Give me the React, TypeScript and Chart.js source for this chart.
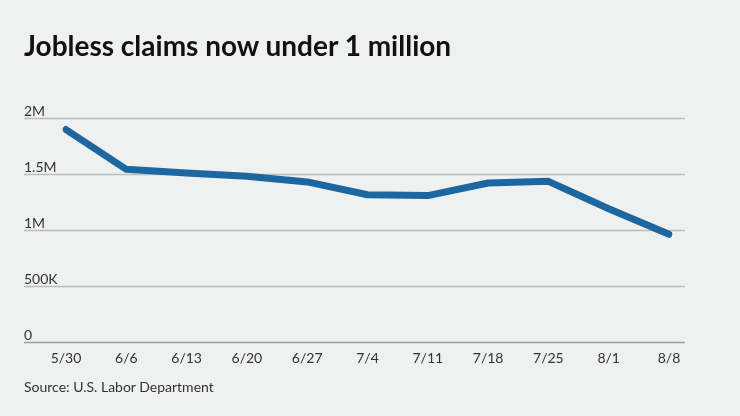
import React, { useEffect, useRef } from "react";
import { Chart, registerables } from "chart.js";

Chart.register(...registerables);

const weeks = ["5/30", "6/6", "6/13", "6/20", "6/27", "7/4", "7/11", "7/18", "7/25", "8/1", "8/8"];
const claims = [1897000, 1542000, 1510000, 1480000, 1430000, 1315000, 1308000, 1420000, 1435000, 1191000, 963000];
const yTicks = [0, 500000, 1000000, 1500000, 2000000];
const yTickLabels = ["0", "500K", "1M", "1.5M", "2M"];

const BG = "#eff1f1";

const gridPlugin = {
  id: "customGrid",
  beforeDatasetsDraw(chart: any) {
    const { ctx } = chart;
    const y = chart.scales.y;
    ctx.save();
    yTicks.forEach((v, i) => {
      const py = Math.round(y.getPixelForValue(v)) + 0.5;
      ctx.strokeStyle = v === 0 ? "#9a9a9a" : "#bdbdbd";
      ctx.lineWidth = 1.5;
      ctx.beginPath();
      ctx.moveTo(24, py);
      ctx.lineTo(685, py);
      ctx.stroke();
      ctx.fillStyle = "#333";
      ctx.font = "14px Lato, 'Open Sans', sans-serif";
      ctx.textAlign = "left";
      ctx.textBaseline = "alphabetic";
      ctx.fillText(yTickLabels[i], 24, py - 3);
    });
    ctx.restore();
  },
};

export default function App() {
  const ref = useRef<HTMLCanvasElement>(null);
  useEffect(() => {
    if (!ref.current) return;
    const chart = new Chart(ref.current, {
      type: "line",
      data: {
        labels: weeks,
        datasets: [
          {
            data: claims,
            borderColor: "#1d67a1",
            borderWidth: 7,
            borderCapStyle: "round",
            borderJoinStyle: "round",
            pointRadius: 0,
            tension: 0,
            fill: false,
          },
        ],
      },
      options: {
        animation: false,
        responsive: false,
        maintainAspectRatio: false,
        layout: { padding: { left: 66, right: 71, top: 118, bottom: 49 } },
        plugins: { legend: { display: false }, tooltip: { enabled: false }, title: { display: false } },
        scales: {
          x: {
            offset: false,
            grid: { display: false },
            border: { display: false },
            ticks: {
              color: "#333",
              font: { family: "Lato, 'Open Sans', sans-serif", size: 14 },
              padding: 0,
              maxRotation: 0,
              autoSkip: false,
            },
          },
          y: { display: false, min: 0, max: 2000000 },
        },
      },
      plugins: [gridPlugin],
    });
    return () => chart.destroy();
  }, []);
  return (
    <div style={{ position: "fixed", left: 0, top: 0, width: 740, height: 416, background: BG, overflow: "hidden" }}>
      <canvas ref={ref} width={740} height={416} style={{ position: "absolute", left: 0, top: 0 }} />
      <div
        style={{
          position: "absolute",
          left: 24,
          top: 28,
          fontFamily: "Lato, sans-serif",
          fontWeight: 700,
          fontSize: 28,
          color: "#111",
          whiteSpace: "nowrap",
        }}
      >
        Jobless claims now under 1 million
      </div>
      <div
        style={{
          position: "absolute",
          left: 24,
          top: 378,
          fontFamily: "Lato, sans-serif",
          fontSize: 14,
          color: "#333",
          whiteSpace: "nowrap",
        }}
      >
        Source: U.S. Labor Department
      </div>
    </div>
  );
}
